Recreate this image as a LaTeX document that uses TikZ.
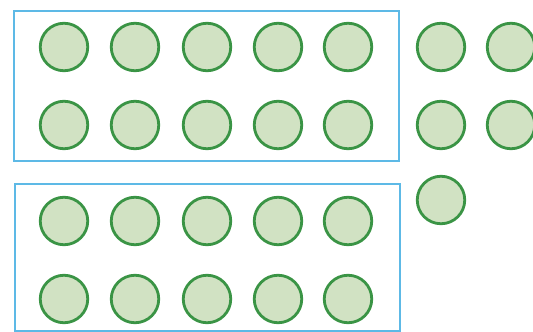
\documentclass[tikz,border=0pt]{standalone}
\begin{document}
\begin{tikzpicture}[x=1pt,y=-1pt,
  counter/.style={circle,draw=cstroke,fill=cfill,line width=2.8pt,minimum size=47.5pt,inner sep=0pt},
  tenframe/.style={draw=bstroke,line width=2.2pt}]
\definecolor{cstroke}{HTML}{3A9445}
\definecolor{cfill}{HTML}{D1E2C3}
\definecolor{bstroke}{HTML}{5DB9E6}
\useasboundingbox (0,0) rectangle (533,332);
\draw[tenframe] (14,11) rectangle (399,161);
\draw[tenframe] (15,184) rectangle (400,331);
\foreach \x [count=\i] in {64,135,207,278,348}{
  \node[counter] (a\i) at (\x,47) {};
  \node[counter] (b\i) at (\x,125) {};
  \node[counter] (c\i) at (\x,221) {};
  \node[counter] (d\i) at (\x,299) {};
}
\node[counter] (e1) at (441,47) {};
\node[counter] (e2) at (511,47) {};
\node[counter] (e3) at (441,125) {};
\node[counter] (e4) at (511,125) {};
\node[counter] (e5) at (441,200) {};
\end{tikzpicture}
\end{document}
